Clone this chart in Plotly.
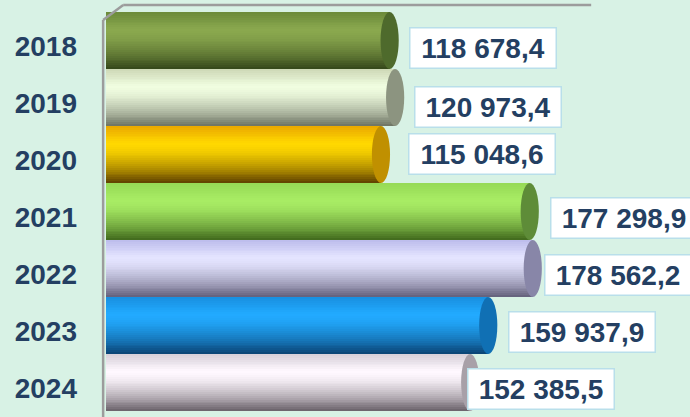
import plotly.graph_objects as go

# ---- data ----
years = ["2018", "2019", "2020", "2021", "2022", "2023", "2024"]
values = [118678.4, 120973.4, 115048.6, 177298.9, 178562.2, 159937.9, 152385.5]

# ---- styles (colours per bar: top, highlight, bottom, end cap) ----
bar_top = ["#6b8a3a", "#cdd8b6", "#eaa800", "#96da56", "#bcbcec", "#1890e0", "#d6cfd8"]
bar_hi = ["#8aa84e", "#f0fde0", "#ffd800", "#a8ec64", "#e4e4ff", "#22aaff", "#fff8ff"]
bar_bot = ["#34461a", "#6c7262", "#5e4000", "#40681c", "#625f7a", "#0a4272", "#686068"]
cap_col = ["#4e6a2c", "#8c9480", "#c09000", "#5e8c38", "#8886a8", "#1070b4", "#a8a0a8"]
label_dx = [19, 19, 27, 20, 11, 20, -3]
label_dy = [-7, -9, 1, -6, -6, -6, -6]

BG = "#d8f2e5"
TXT = "#243f62"
FONT = "Liberation Sans, Arial, sans-serif"


def hex2rgb(h):
    h = h.lstrip("#")
    return [int(h[i:i + 2], 16) for i in (0, 2, 4)]


def mix(a, b, t):
    ca, cb = hex2rgb(a), hex2rgb(b)
    return "rgb(%d,%d,%d)" % tuple(round(ca[i] + (cb[i] - ca[i]) * t) for i in range(3))


def grad(i, t):
    if t < 0.3:
        return mix(bar_top[i], bar_hi[i], t / 0.3)
    u = ((t - 0.3) / 0.7) ** 1.6
    return mix(bar_hi[i], bar_bot[i], u)


fig = go.Figure()
N = 30
for k in range(N):
    t = (k + 0.5) / N
    fig.add_trace(go.Bar(
        y=years, x=values, orientation="h",
        offset=-0.5 + k / N, width=1.0 / N + 0.004,
        marker=dict(color=[grad(i, t) for i in range(len(years))], line=dict(width=0)),
        hoverinfo="skip", showlegend=False,
    ))

# end caps of the cylinders
cap_half = 3800
for i, v in enumerate(values):
    fig.add_shape(type="circle", xref="x", yref="y",
                  x0=v - cap_half, x1=v + cap_half, y0=i - 0.5, y1=i + 0.5,
                  fillcolor=cap_col[i], line=dict(width=0), layer="above")

# value labels
for i, v in enumerate(values):
    txt = f"{v:,.1f}".replace(",", " ").replace(".", ",")
    fig.add_annotation(x=v + cap_half, y=i, xref="x", yref="y",
                       text="<b>%s</b>" % txt, showarrow=False,
                       xanchor="left", yanchor="middle",
                       xshift=label_dx[i] - 9, yshift=label_dy[i],
                       width=141, height=35, align="center",
                       bgcolor="white", bordercolor="#b9dfea", borderwidth=1.5, borderpad=2,
                       font=dict(family=FONT, size=28, color=TXT))

# 3D-ish frame
frame = dict(color="#9c9c9c", width=2.5)
fig.add_shape(type="line", xref="paper", yref="paper", x0=-0.006, x1=-0.006, y0=-0.02, y1=0.98, line=frame)
fig.add_shape(type="line", xref="paper", yref="paper", x0=-0.006, x1=0.036, y0=0.98, y1=1.0175, line=frame)
fig.add_shape(type="line", xref="paper", yref="paper", x0=0.036, x1=1.015, y0=1.0175, y1=1.0175, line=frame)

fig.update_layout(
    width=690, height=417,
    margin=dict(l=106, r=106, t=12, b=6),
    paper_bgcolor=BG, plot_bgcolor=BG,
    barmode="overlay", bargap=0,
    xaxis=dict(range=[0, 200000], visible=False, fixedrange=True),
    yaxis=dict(type="category", categoryorder="array", categoryarray=years,
               range=[len(years) - 0.5, -0.5], autorange=False,
               showgrid=False, zeroline=False, showline=False,
               ticks="", ticklabelstandoff=28, ticklabelshift=-6,
               tickfont=dict(family=FONT, size=28, color=TXT, weight="bold")),
    showlegend=False,
)

fig.write_html("out.html", config={"displayModeBar": False},
               post_script="document.body.style.margin='0';document.body.style.background='%s';" % BG)
